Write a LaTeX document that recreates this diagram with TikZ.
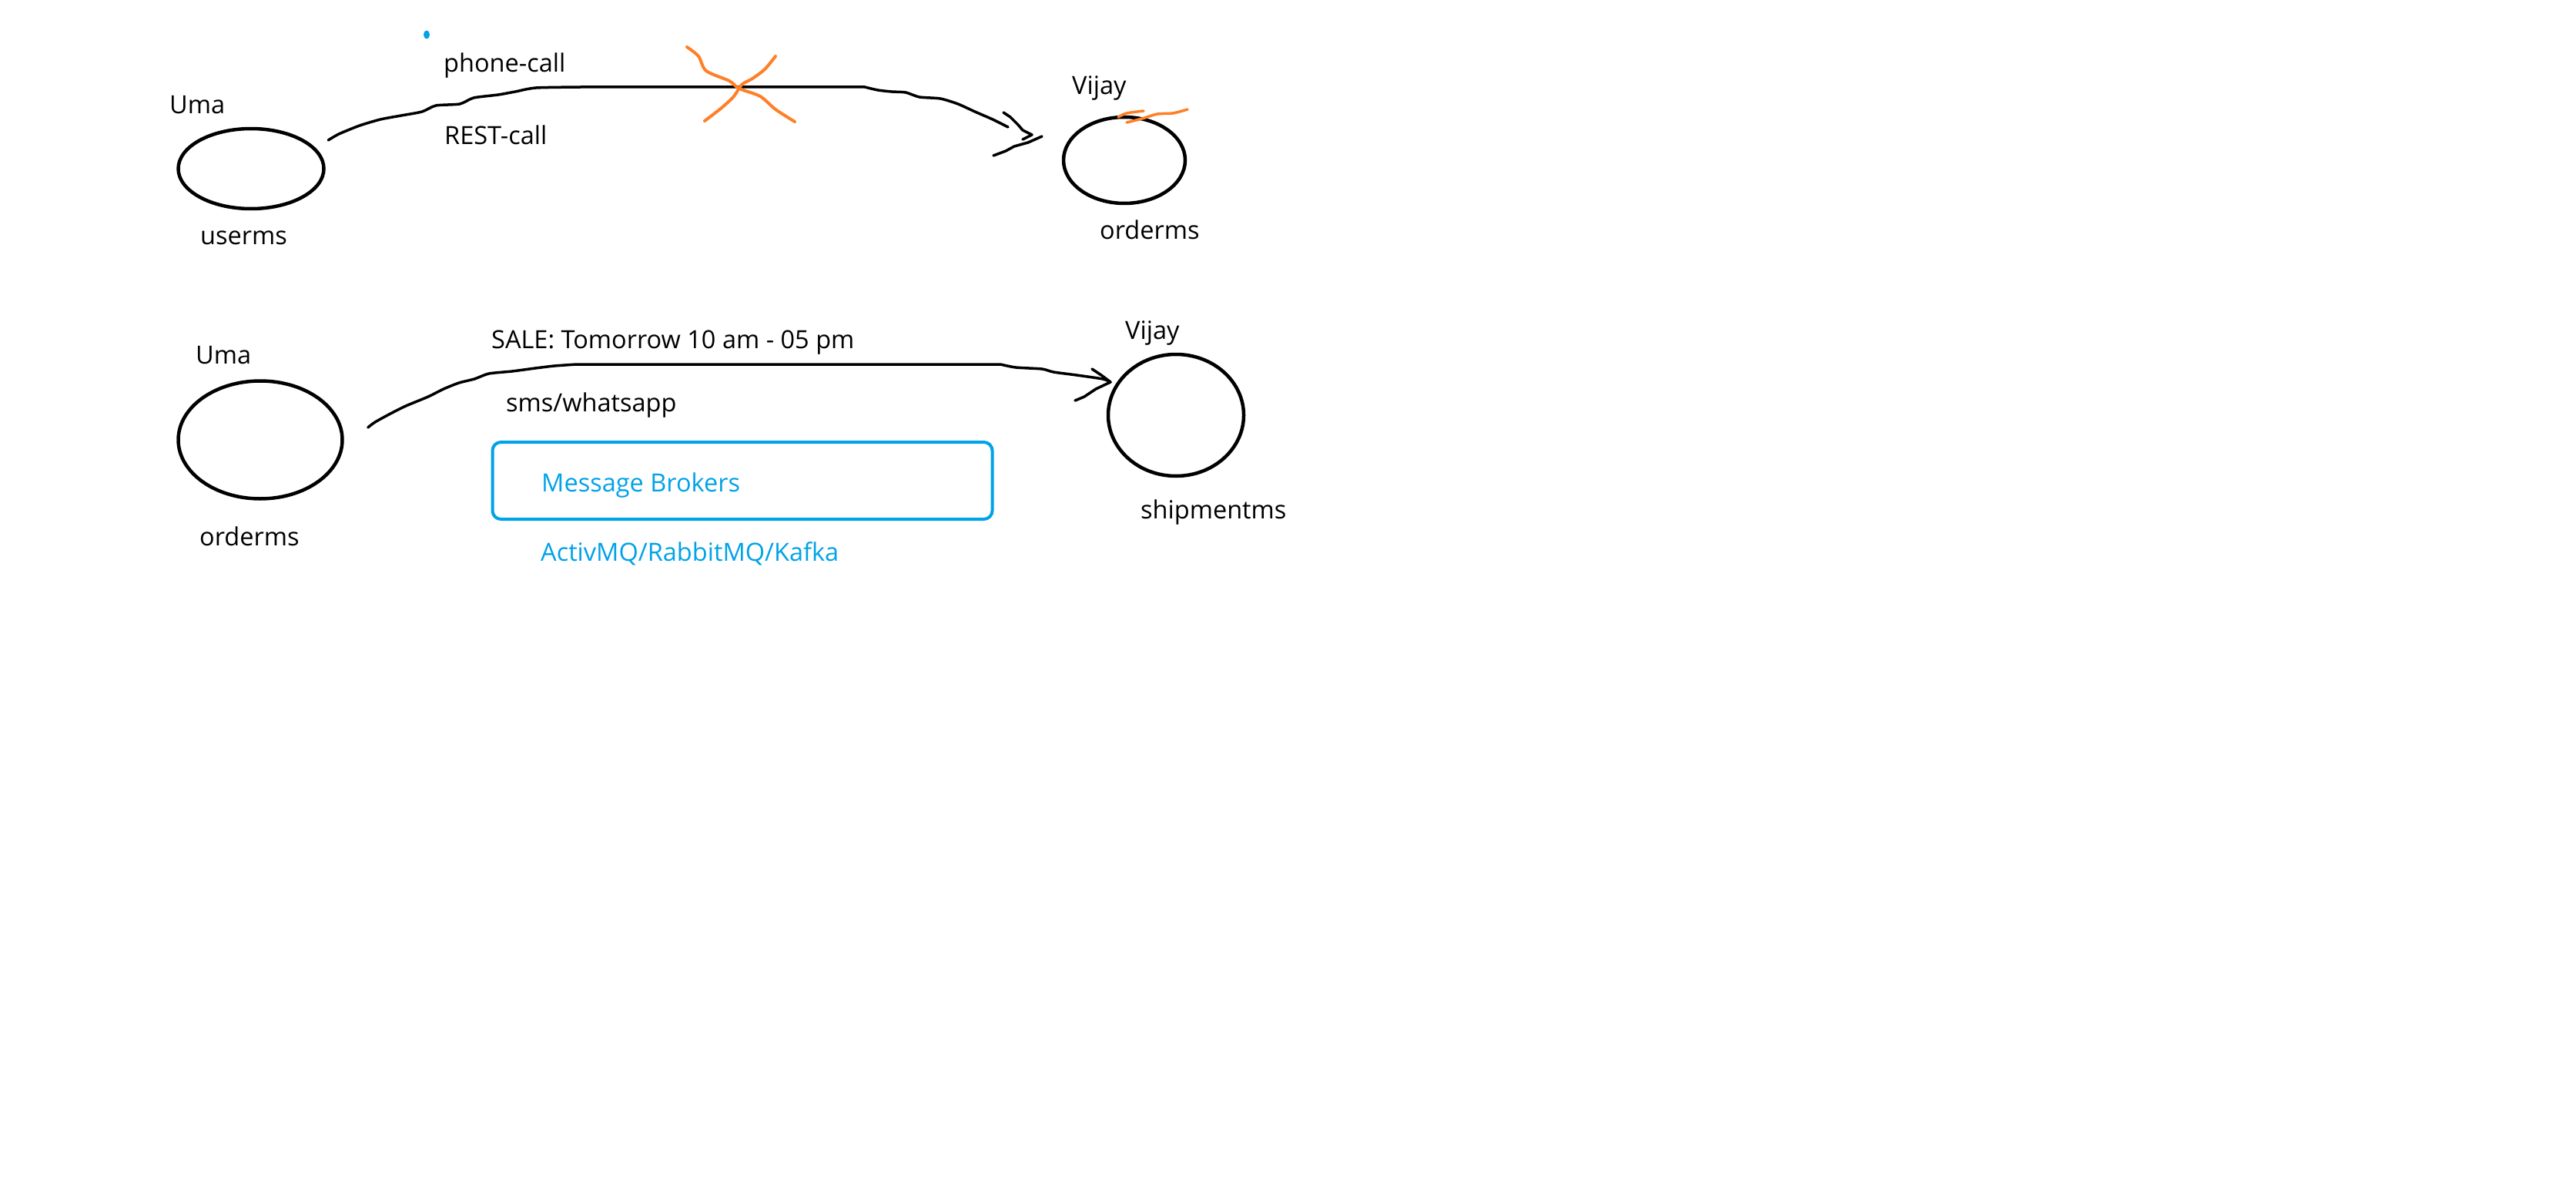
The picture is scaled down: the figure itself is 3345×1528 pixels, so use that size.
\documentclass[tikz,border=0pt]{standalone}
\usepackage{fontspec}
\setmainfont{Open Sans}
\usetikzlibrary{shapes.geometric}
\definecolor{pblue}{RGB}{0,162,232}
\definecolor{porange}{RGB}{255,127,39}
\begin{document}
\begin{tikzpicture}[x=1bp,y=-1bp,
  lbl/.style={anchor=base west, inner sep=0pt, font=\fontsize{32.5bp}{38bp}\selectfont},
  bluelbl/.style={lbl, text=pblue},
  ell/.style={draw, ellipse, line width=4.5bp, inner sep=0pt},
  wire/.style={line width=3.5bp, line cap=round, line join=round},
  cross/.style={draw=porange, line width=4bp, line cap=round, line join=round}]
\useasboundingbox[fill=white] (0,0) rectangle (3345,1528);

% ---- top row ----
\node[ell, minimum width=189bp, minimum height=104bp] (e1) at (326,219) {};
\node[ell, minimum width=158bp, minimum height=112bp] (e2) at (1460,208) {};
\node[lbl] (t1) at (220,148) {Uma};
\node[lbl] (t2) at (260,317) {userms};
\node[lbl] (t3) at (576,94) {phone-call};
\node[lbl] (t4) at (577,187) {REST-call};
\node[lbl] (t5) at (1392,123) {Vijay};
\node[lbl] (t6) at (1428,310) {orderms};
\node[fill=pblue, ellipse, inner sep=0pt, minimum width=8bp, minimum height=11bp] (dot) at (554,45) {};

\coordinate (a1) at ([shift={(3.5,-37)}]e1.east);
\coordinate (a2) at (1309,165);
\draw[wire] plot[smooth, tension=0.4] coordinates {(a1) (440,174) (467,163) (494,155) (521,150) (548,145) (566,137) (597,135) (615,127) (647,123) (669,119) (696,114) (754,113)}
  -- (1123,113)
  plot[smooth, tension=0.4] coordinates {(1123,113) (1140,117) (1158,119) (1176,120) (1194,126) (1221,128) (1244,135) (1266,145) (1289,155) (a2)};
\coordinate (h1) at (1340,175);
\draw[wire] (1303,146) -- (1312,152) -- (1322,162) -- (1328,169) -- (h1) -- (1328,181);
\draw[wire] (1353,177) -- (1335,185) -- (1317,190) -- (1306,196) -- (1290,202);

% orange X
\draw[cross] plot[smooth, tension=0.5] coordinates {(892,61) (907,73) (917,92) (947,105) (960,115) (987,125) (1007,142) (1032,158)};
\draw[cross] plot[smooth, tension=0.5] coordinates {(915,157) (937,140) (953,125) (963,110) (977,102) (993,90) (1007,73)};
% orange scribble on orderms
\draw[cross, line width=3.5bp] plot[smooth, tension=0.5] coordinates {(1452,152) (1463,147) (1485,144)};
\draw[cross, line width=3.5bp] plot[smooth, tension=0.5] coordinates {(1463,159) (1483,154) (1503,148) (1523,147) (1542,142)};

% ---- bottom row ----
\node[ell, minimum width=213bp, minimum height=153bp] (e3) at (338,571) {};
\node[ell, minimum width=176bp, minimum height=158bp] (e4) at (1527,539) {};
\node[lbl] (b1) at (254,472) {Uma};
\node[lbl] (b2) at (259,708) {orderms};
\node[lbl] (b3) at (638,452) {SALE: Tomorrow 10 am - 05 pm};
\node[lbl] (b4) at (657,534) {sms/whatsapp};
\node[lbl] (b5) at (1461,440) {Vijay};
\node[lbl] (b6) at (1481,673) {shipmentms};

\node[draw=pblue, line width=4bp, rounded corners=11bp, minimum width=649bp, minimum height=100bp, inner sep=0pt] (mb) at (964,624) {};
\node[bluelbl] (b7) at (703,638) {Message Brokers};
\node[bluelbl] (b8) at (702,728) {ActivMQ/RabbitMQ/Kafka};

\coordinate (a3) at ([shift={(31,-16)}]e3.east);
\coordinate (a4) at (1442,496);
\draw[wire] plot[smooth, tension=0.4] coordinates {(a3) (487,548) (507,537) (527,527) (556,515) (576,505) (596,497) (616,492) (635,485) (665,482) (695,478) (720,475) (749,473)}
  -- (1299,473)
  plot[smooth, tension=0.4] coordinates {(1299,473) (1319,477) (1353,479) (1368,483) (1398,487) (1432,492) (a4)};
\draw[wire] (1418,479) -- (1430,487) -- (a4) -- (1423,505) -- (1408,515) -- (1396,520);
\end{tikzpicture}
\end{document}
